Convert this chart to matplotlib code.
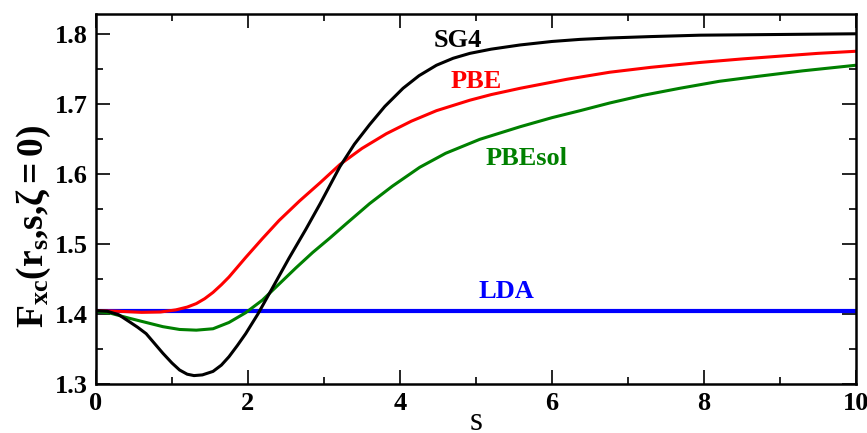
import matplotlib
matplotlib.use("Agg")
import matplotlib.pyplot as plt
from matplotlib.ticker import MultipleLocator

# values
s_sg4 = [0.0, 0.15, 0.3, 0.44, 0.55, 0.66, 0.77, 0.88, 1.0, 1.1, 1.2, 1.29, 1.4,
         1.54, 1.65, 1.75, 1.86, 1.97, 2.13, 2.32, 2.54, 2.76, 2.95, 3.21, 3.4,
         3.6, 3.8, 4.04, 4.25, 4.48, 4.7, 4.92, 5.2, 5.58, 6.0, 6.37, 6.76, 7.3,
         7.95, 9.0, 10.0]
f_sg4 = [1.405, 1.404, 1.399, 1.389, 1.381, 1.372, 1.358, 1.344, 1.330, 1.320,
         1.314, 1.312, 1.313, 1.318, 1.327, 1.339, 1.355, 1.372, 1.400, 1.437,
         1.480, 1.521, 1.558, 1.611, 1.643, 1.671, 1.697, 1.723, 1.741, 1.756,
         1.766, 1.773, 1.779, 1.785, 1.790, 1.793, 1.795, 1.797, 1.799, 1.800,
         1.801]

s_pbe = [0.0, 0.3, 0.6, 0.85, 1.05, 1.2, 1.32, 1.43, 1.54, 1.65, 1.75, 1.86, 1.97,
         2.19, 2.41, 2.68, 2.95, 3.21, 3.5, 3.82, 4.15, 4.48, 4.92, 5.2, 5.58,
         6.2, 6.76, 7.3, 7.95, 8.5, 9.0, 9.5, 10.0]
f_pbe = [1.405, 1.404, 1.4025, 1.403, 1.406, 1.410, 1.415, 1.422, 1.431, 1.442,
         1.453, 1.467, 1.481, 1.508, 1.534, 1.562, 1.588, 1.614, 1.637, 1.658,
         1.676, 1.691, 1.706, 1.714, 1.723, 1.736, 1.746, 1.753, 1.760, 1.765,
         1.769, 1.773, 1.776]

s_sol = [0.0, 0.2, 0.44, 0.66, 0.88, 1.1, 1.32, 1.54, 1.75, 1.97, 2.19, 2.41, 2.63,
         2.85, 3.08, 3.29, 3.6, 3.9, 4.26, 4.6, 5.05, 5.58, 6.0, 6.37, 6.76, 7.2,
         7.68, 8.2, 8.7, 9.3, 10.0]
f_sol = [1.404, 1.401, 1.394, 1.388, 1.382, 1.378, 1.377, 1.379, 1.388, 1.402,
         1.420, 1.443, 1.466, 1.488, 1.509, 1.529, 1.558, 1.583, 1.610, 1.630,
         1.650, 1.668, 1.681, 1.691, 1.702, 1.713, 1.723, 1.733, 1.740, 1.748,
         1.756]

s_lda = [0.0, 10.0]
f_lda = [1.405, 1.405]

plt.rcParams['font.family'] = ['Liberation Serif', 'DejaVu Serif']
plt.rcParams['font.weight'] = 'bold'
plt.rcParams['mathtext.fontset'] = 'custom'
plt.rcParams['mathtext.rm'] = 'Liberation Serif:bold'
plt.rcParams['mathtext.bf'] = 'Liberation Serif:bold'
plt.rcParams['mathtext.it'] = 'Liberation Serif:bold:italic'
plt.rcParams['mathtext.default'] = 'bf'

fig = plt.figure(figsize=(8.67, 4.33), dpi=100)
ax = fig.add_axes([0.1107, 0.1132, 0.8766, 0.8556])

line_kw = dict(linewidth=2.2, solid_joinstyle='round', solid_capstyle='butt')
ax.plot(s_lda, f_lda, color='#0000ff', linewidth=3.0, solid_capstyle='butt')
ax.plot(s_pbe, f_pbe, color='#ff0000', **line_kw)
ax.plot(s_sol, f_sol, color='#008000', **line_kw)
ax.plot(s_sg4, f_sg4, color='black', **line_kw)

ax.text(4.76, 1.791, 'SG4', color='black', fontsize=19, ha='center', va='center')
ax.text(5.0, 1.733, 'PBE', color='#ff0000', fontsize=19, ha='center', va='center')
ax.text(5.66, 1.623, 'PBEsol', color='#008000', fontsize=19, ha='center', va='center')
ax.text(5.40, 1.432, 'LDA', color='#0000ff', fontsize=19, ha='center', va='center')

ax.set_xlim(0, 10)
ax.set_ylim(1.3, 1.83)
ax.xaxis.set_major_locator(MultipleLocator(2))
ax.xaxis.set_minor_locator(MultipleLocator(1))
ax.yaxis.set_major_locator(MultipleLocator(0.1))
ax.yaxis.set_minor_locator(MultipleLocator(0.05))

ax.tick_params(which='both', direction='in', top=True, right=True,
               labelsize=19, width=1.2)
ax.tick_params(which='major', length=10, pad=6)
ax.tick_params(which='minor', length=5)
for sp in ax.spines.values():
    sp.set_linewidth(1.8)

ax.set_xlabel('s', fontsize=24, va='center')
ax.set_ylabel(r'$F_{xc}(r_s{,}s{,}\zeta{=}0)$', fontsize=27, va='center')
ax.xaxis.set_label_coords(0.5, -0.103)
ax.yaxis.set_label_coords(-0.082, 0.424)

fig.savefig('out.png', dpi=100)
